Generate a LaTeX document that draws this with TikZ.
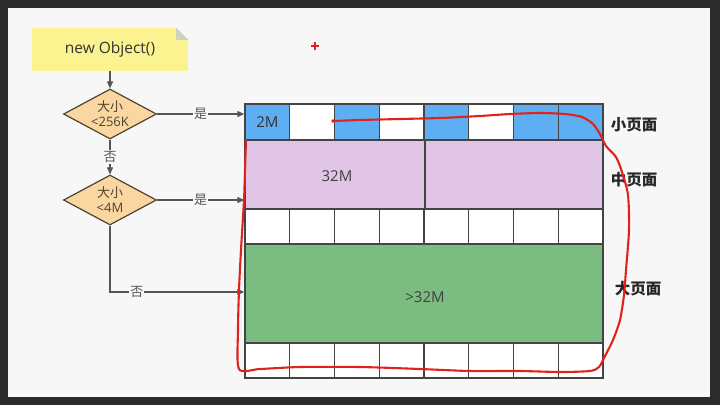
\documentclass[tikz,border=0pt]{standalone}
\usepackage{fontspec}
\setmainfont{Open Sans}
\newfontfamily\cjkf{Noto Sans CJK SC}
\usetikzlibrary{shapes.geometric,arrows.meta}
\definecolor{frame}{HTML}{2B2B2B}
\definecolor{paper}{HTML}{F7F7F7}
\definecolor{noteY}{HTML}{FAF38F}
\definecolor{foldG}{HTML}{CFCFC4}
\definecolor{diaF}{HTML}{FAD7A0}
\definecolor{diaD}{HTML}{4E4232}
\definecolor{blueC}{HTML}{5EAEF3}
\definecolor{purpC}{HTML}{E0C4E6}
\definecolor{greenC}{HTML}{7BBD80}
\definecolor{gridL}{HTML}{444444}
\definecolor{lineG}{HTML}{555555}
\definecolor{redP}{HTML}{E0221A}
\begin{document}
\begin{tikzpicture}[x=1pt,y=-1pt,
  cell/.style={draw=gridL, line width=1.4pt, rectangle, inner sep=0pt, minimum width=44.75pt, minimum height=35pt, fill=white},
  block/.style={draw=gridL, line width=1.4pt, rectangle, inner sep=0pt},
  dia/.style={diamond, draw=diaD, line width=1.2pt, fill=diaF, inner sep=0pt, minimum width=93pt, minimum height=50pt},
  diatxt/.style={align=center, inner sep=0pt, font=\fontsize{13}{15}\selectfont, text=diaD},
  arr/.style={draw=lineG, line width=1.1pt, -{Triangle[length=7pt,width=6pt]}},
  lbl/.style={fill=paper, inner sep=1pt, text=lineG, font=\cjkf\fontsize{13}{14}\selectfont},
  side/.style={font=\cjkf\fontsize{15.5}{16}\selectfont\bfseries, text=black!85, inner sep=0pt},
  celltxt/.style={font=\fontsize{15}{16}\selectfont, text=black!75}
]
\useasboundingbox (0,0) rectangle (720,405);
\fill[frame] (0,0) rectangle (720,405);
\fill[paper] (8,8) rectangle (710,397);

% note
\node[rectangle, fill=noteY, minimum width=156pt, minimum height=43pt, inner sep=0pt, font=\fontsize{15.5}{16}\selectfont, text=black!80] (note) at (110,49.5) {new Object()};
\fill[paper] (note.north east) ++(-12,0) -- (note.north east) -- ++(0,12) -- cycle;
\fill[foldG] (note.north east) ++(-12,0) -- ++(0,12) -- ++(12,0) -- cycle;

% diamonds
\node[dia] (d1) at (110,114) {};
\node[diatxt] (t1) at (d1.center) {{\cjkf 大小}\\<256K};
\node[dia] (d2) at (110,200) {};
\node[diatxt] (t2) at (d2.center) {{\cjkf 大小}\\<4M};

% grid: top row
\foreach \i/\c in {0/blueC,1/white,2/blueC,3/white,4/blueC,5/white,6/blueC,7/blueC}
  \node[cell, fill=\c, minimum height=36pt] (s\i) at ({245+44.75*\i+22.375},122) {};
\node[celltxt, text=black!80] at (s0) {2M};
% purple
\node[block, fill=purpC, minimum width=180pt, minimum height=69pt] (p1) at (335,174.5) {};
\node[block, fill=purpC, minimum width=178pt, minimum height=69pt] (p2) at (514,174.5) {};
\node[celltxt] at (337,176) {32M};
% white row
\foreach \i in {0,...,7}
  \node[cell] (w\i) at ({245+44.75*\i+22.375},226.5) {};
% green
\node[block, fill=greenC, minimum width=358pt, minimum height=99pt] (g) at (424,293.5) {};
\node[celltxt] at (425,297) {>32M};
% bottom row
\foreach \i in {0,...,7}
  \node[cell] (b\i) at ({245+44.75*\i+22.375},360.5) {};

% side labels
\node[side] (l1) at (634,125) {小页面};
\node[side] (l2) at (634,180) {中页面};
\node[side] (l3) at (638,289) {大页面};

% connectors
\coordinate (in1) at (d1.east -| s0.west);
\coordinate (in2) at (d2.east -| p1.west);
\coordinate (in3) at (110,292 -| g.west);
\draw[arr] (note.south) -- (d1.north);
\draw[arr] (d1.east) -- node[lbl]{是} (in1);
\draw[arr] (d1.south) -- node[lbl]{否} (d2.north);
\draw[arr] (d2.east) -- node[lbl]{是} (in2);
\draw[arr] (d2.south) |- node[lbl, pos=0.6]{否} (in3);

% red annotation
\draw[redP, line width=2.1pt, line cap=round, line join=round] plot[smooth, tension=0.45] coordinates {
 (333,121) (360,120) (400,119) (440,118) (480,116) (510,114) (540,113) (565,114) (582,117) (593,124) (600,134) (606,146) (616,157) (622,172) (628,195) (629,230) (626,270) (624,295) (620,320) (613,340) (605,356) (599,367) (590,371) (560,372) (520,371) (470,371) (420,369) (360,367) (300,367) (260,369) (239,369) (238,330) (239,290) (241,250) (244,200) (245,170) (246,140)};
\fill[redP] (333,121) circle (1.8pt);
% red plus
\draw[redP, line width=1.3pt] (311,46) -- (319,46) (315,42) -- (315,50);
\end{tikzpicture}
\end{document}
